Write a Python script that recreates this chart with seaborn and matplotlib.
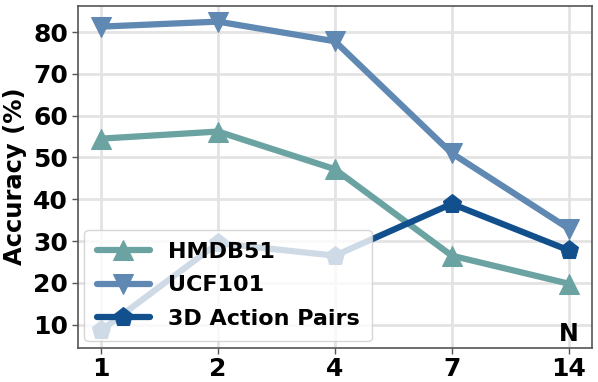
import numpy as np
import pandas as pd
import matplotlib
matplotlib.use('Agg')
import matplotlib.pyplot as plt
import seaborn as sns

n_frames = ['1', '2', '4', '7', '14']
hmdb51 = [54.5, 56.2, 47.2, 26.5, 19.8]
ucf101 = [81.3, 82.5, 77.8, 51.0, 33.0]
action_pairs = [8.6, 29.5, 26.5, 38.9, 27.8]

series_names = ['HMDB51', 'UCF101', '3D Action Pairs']
colors = ['#6aa3a1', '#5f88b3', '#114f8d']
markers = ['^', 'v', 'p']

sns.set_style('whitegrid')
plt.rcParams['font.family'] = ['DejaVu Sans']
plt.rcParams['font.weight'] = 'bold'
plt.rcParams['text.color'] = 'black'

f, ax = plt.subplots(figsize=(5.98, 3.82), dpi=100)

for name, vals, c, m in zip(series_names, [hmdb51, ucf101, action_pairs], colors, markers):
    df = pd.DataFrame({'N': n_frames, 'acc': vals})
    sns.lineplot(data=df, x='N', y='acc', ax=ax, color=c, marker=m, markersize=14,
                 markeredgecolor=c, linewidth=4.5, label=name, sort=False)

ax.set_ylim(4.5, 86.3)
ax.set_xlim(-0.2, 4.2)
ax.set_yticks([10, 20, 30, 40, 50, 60, 70, 80])
ax.grid(True, color='#e3e3e3', linewidth=2)
for s in ax.spines.values():
    s.set_color('#555555')
    s.set_linewidth(1.2)
ax.tick_params(axis='both', labelsize=18, length=4, width=1, color='#555555',
               labelcolor='black', left=True, bottom=True, pad=3)
for lab in ax.get_xticklabels() + ax.get_yticklabels():
    lab.set_fontweight('bold')
ax.set_xlabel('')
ax.set_ylabel('Accuracy (%)', fontsize=17.5, fontweight='bold', color='black', labelpad=4)
ax.text(4.0, 4.9, 'N', fontsize=17, fontweight='bold', ha='center', va='bottom', color='black')

leg = ax.legend(loc='lower left', prop={'size': 16, 'weight': 'bold'}, framealpha=0.8,
                handlelength=2.4, borderaxespad=0.3, labelspacing=0.6, borderpad=0.55)
for t in leg.get_texts():
    t.set_color('black')

plt.subplots_adjust(left=0.13, right=0.99, top=0.985, bottom=0.09)
f.savefig('out.png', dpi=100)
